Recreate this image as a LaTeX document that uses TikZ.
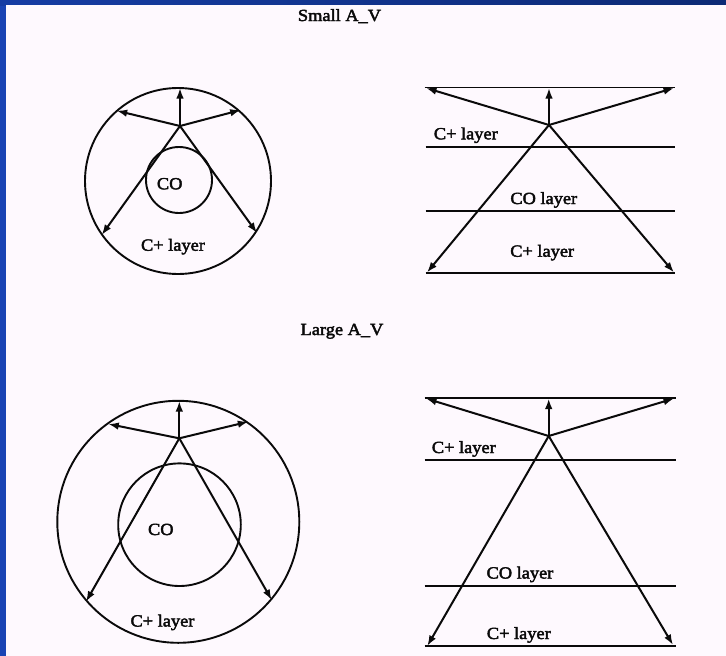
\documentclass[tikz,border=0pt]{standalone}
\usepackage{fontspec}
\setmainfont{Liberation Serif}[FakeStretch=1.08,FakeBold=2.5]
\usetikzlibrary{arrows.meta}
\definecolor{bgwhite}{HTML}{FEF9FE}
\definecolor{frameblue}{HTML}{1A44B4}
\definecolor{frametop}{HTML}{163DA4}
\definecolor{frametopdark}{HTML}{0D2A75}
\definecolor{ink}{HTML}{0A0A0A}
\begin{document}
\begin{tikzpicture}[x=1pt,y=-1pt,
  ray/.style={draw=ink,line width=2pt,-{Latex[length=10.5pt,width=7.5pt]}},
  wire/.style={draw=ink,line width=1.9pt},
  lbl/.style={font=\fontsize{17}{17}\selectfont,text=ink,inner sep=0pt,anchor=base}]
\useasboundingbox (0,0) rectangle (726,656);
\fill[frameblue] (0,0) rectangle (6,656);
\shade[left color=frametop,right color=frametopdark] (0,0) rectangle (726,5);
\fill[bgwhite] (6,5) rectangle (726,656);

% titles
\node[lbl] (t1) at (339.5,21) {Small A\_V};
\node[lbl] (t2) at (342,335) {Large A\_V};

% ---------- top-left: small A_V sphere ----------
\draw[wire] (178,181) circle[radius=93];
\draw[wire] (179,180) circle[radius=33];
\coordinate (a1) at (180,126);
\coordinate (a1u) at (180,88);
\coordinate (a1l) at (116.7,110.7);
\coordinate (a1r) at (240.7,110);
\coordinate (a1bl) at (101.7,235);
\coordinate (a1br) at (257,233);
\foreach \e in {a1u,a1l,a1r,a1bl,a1br} \draw[ray] (a1) -- (\e);
\node[lbl] (co1) at (169.7,189.3) {CO};
\node[lbl] (cp1) at (173,250.7) {C+ layer};

% ---------- top-right: small A_V slab ----------
\coordinate (s1a) at (424.5,87.5);  \coordinate (s1b) at (675,87.5);
\coordinate (s2a) at (425.5,147.3); \coordinate (s2b) at (675,147.3);
\coordinate (s3a) at (425.5,210.7); \coordinate (s3b) at (675,210.7);
\coordinate (s4a) at (425.5,272.7); \coordinate (s4b) at (675,272.7);
\draw[wire] (s1a) -- (s1b);
\draw[wire] (s2a) -- (s2b);
\draw[wire] (s3a) -- (s3b);
\draw[wire] (s4a) -- (s4b);
\coordinate (b1) at (549,125);
\coordinate (b1u) at (549,88);
\coordinate (b1l) at (426,88);
\coordinate (b1r) at (674,88);
\coordinate (b1bl) at (427,272.5);
\coordinate (b1br) at (674,272.5);
\foreach \e in {b1u,b1l,b1r,b1bl,b1br} \draw[ray] (b1) -- (\e);
\node[lbl] (sc1) at (465.8,139.3) {C+ layer};
\node[lbl] (sco1) at (543.8,204) {CO layer};
\node[lbl] (sc2) at (542.2,256.7) {C+ layer};

% ---------- bottom-left: large A_V sphere ----------
\draw[wire] (178.3,521.8) circle[radius=121];
\draw[wire] (179.5,524.7) circle[radius=61.3];
\coordinate (a2) at (179.3,438.3);
\coordinate (a2u) at (179.3,401);
\coordinate (a2l) at (108.3,424);
\coordinate (a2r) at (248.3,421.7);
\coordinate (a2bl) at (86,601.7);
\coordinate (a2br) at (271.7,600);
\foreach \e in {a2u,a2l,a2r,a2bl,a2br} \draw[ray] (a2) -- (\e);
\node[lbl] (co2) at (160.8,535) {CO};
\node[lbl] (cp2) at (162.5,626.5) {C+ layer};

% ---------- bottom-right: large A_V slab ----------
\coordinate (l1a) at (424.7,398.3); \coordinate (l1b) at (675.7,398.3);
\coordinate (l2a) at (424.7,460);   \coordinate (l2b) at (675.7,460);
\coordinate (l3a) at (424.7,586);   \coordinate (l3b) at (675.7,586);
\coordinate (l4a) at (424.7,646);   \coordinate (l4b) at (675.7,646);
\draw[wire] (l1a) -- (l1b);
\draw[wire] (l2a) -- (l2b);
\draw[wire] (l3a) -- (l3b);
\draw[wire] (l4a) -- (l4b);
\coordinate (b2) at (548.7,436);
\coordinate (b2u) at (548.7,398.5);
\coordinate (b2l) at (426,398.5);
\coordinate (b2r) at (674,398.5);
\coordinate (b2bl) at (427.3,646);
\coordinate (b2br) at (673,645);
\foreach \e in {b2u,b2l,b2r,b2bl,b2br} \draw[ray] (b2) -- (\e);
\node[lbl] (lc1) at (463.8,453) {C+ layer};
\node[lbl] (lco1) at (520,578.5) {CO layer};
\node[lbl] (lc2) at (518.8,639) {C+ layer};
\end{tikzpicture}
\end{document}
